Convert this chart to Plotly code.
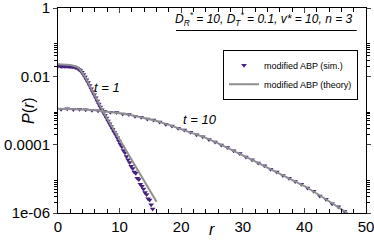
import plotly.graph_objects as go

# ---- data (log10 P values) ----
r_theory_t1 = [0, 0.5, 1, 1.5, 2, 2.5, 3, 3.5, 4, 4.5, 5, 5.5, 6, 6.5, 7, 7.5, 8,
               8.5, 9, 9.5, 10, 10.5, 11, 11.5, 12, 12.5, 13, 13.5, 14, 14.5, 15, 15.5, 16]
logP_theory_t1 = [-1.65, -1.65, -1.655, -1.66, -1.67, -1.69, -1.72, -1.78, -1.90, -2.05,
                  -2.22, -2.40, -2.58, -2.76, -2.93, -3.09, -3.24, -3.39, -3.54, -3.69,
                  -3.85, -4.00, -4.15, -4.30, -4.45, -4.61, -4.76, -4.91, -5.06, -5.21,
                  -5.37, -5.52, -5.67]

r_sim_t1 = [0.125, 0.375, 0.625, 0.875, 1.125, 1.375, 1.625, 1.875, 2.125, 2.375,
            2.625, 2.875, 3.125, 3.375, 3.625, 3.875, 4.125, 4.375, 4.625, 4.875,
            5.125, 5.375, 5.625, 5.875, 6.125, 6.375, 6.625, 6.875, 7.125, 7.375,
            7.625, 7.875, 8.125, 8.375, 8.625, 8.875, 9.125, 9.375, 9.625, 9.875,
            10.125, 10.375, 10.625, 10.875, 11.125, 11.375, 11.625, 11.875, 12.125, 12.375,
            12.625, 12.875, 13.125, 13.375, 13.625, 13.875, 14.125, 14.375, 14.625, 14.875,
            15.125, 15.375]
logP_sim_t1 = [-1.70, -1.70, -1.71, -1.70, -1.71, -1.70, -1.71, -1.71, -1.72, -1.72,
               -1.73, -1.74, -1.76, -1.79, -1.83, -1.88, -1.95, -2.02, -2.10, -2.18,
               -2.27, -2.36, -2.45, -2.54, -2.63, -2.72, -2.81, -2.90, -2.98, -3.06,
               -3.14, -3.22, -3.31, -3.39, -3.47, -3.55, -3.64, -3.71, -3.80, -3.89,
               -3.99, -4.06, -4.17, -4.24, -4.35, -4.44, -4.52, -4.63, -4.70, -4.80,
               -4.84, -4.98, -5.02, -5.16, -5.22, -5.30, -5.40, -5.46, -5.58, -5.62,
               -5.76, -5.88]

r_theory_t10 = [0, 2, 4, 6, 8, 10, 12, 14, 16, 18, 20, 22, 24, 26, 28, 30, 32, 34,
                36, 38, 40, 42, 44, 46, 47]
logP_theory_t10 = [-2.95, -2.955, -2.97, -2.99, -3.03, -3.08, -3.14, -3.22, -3.31, -3.42,
                   -3.54, -3.67, -3.80, -3.96, -4.13, -4.31, -4.49, -4.67, -4.85, -5.03,
                   -5.21, -5.43, -5.66, -5.89, -6.00]

r_sim_t10 = [0.5, 1.5, 2.5, 3.5, 4.5, 5.5, 6.5, 7.5, 8.5, 9.5, 10.5, 11.5, 12.5, 13.5,
             14.5, 15.5, 16.5, 17.5, 18.5, 19.5, 20.5, 21.5, 22.5, 23.5, 24.5, 25.5,
             26.5, 27.5, 28.5, 29.5, 30.5, 31.5, 32.5, 33.5, 34.5, 35.5, 36.5, 37.5,
             38.5, 39.5, 40.5, 41.5, 42.5, 43.5, 44.5, 45.5, 46.5]
logP_sim_t10 = [-2.96, -2.95, -2.97, -2.96, -2.98, -2.99, -3.01, -3.02, -3.05, -3.06,
                -3.10, -3.12, -3.17, -3.20, -3.25, -3.28, -3.34, -3.40, -3.45, -3.52,
                -3.57, -3.64, -3.71, -3.77, -3.85, -3.92, -4.01, -4.08, -4.18, -4.26,
                -4.36, -4.44, -4.54, -4.62, -4.72, -4.80, -4.90, -4.98, -5.08, -5.16,
                -5.27, -5.36, -5.50, -5.60, -5.73, -5.82, -5.95]

x_ticks = [0, 10, 20, 30, 40, 50]
y_ticks = [1, 1e-2, 1e-4, 1e-6]
y_tick_labels = ["1", "0.01", "0.0001", "1e-06"]
y_minor = [m * 10.0 ** e for e in (-2, -4, -6) for m in (2, 3, 4, 5, 6, 7, 8, 9)]

P_theory_t1 = [10 ** v for v in logP_theory_t1]
P_sim_t1 = [10 ** v for v in logP_sim_t1]
P_theory_t10 = [10 ** v for v in logP_theory_t10]
P_sim_t10 = [10 ** v for v in logP_sim_t10]

PURPLE = "#45207f"
GRAY = "#8f8f8f"
FONT = "Liberation Sans, Arial, sans-serif"

fig = go.Figure()
fig.add_trace(go.Scatter(x=r_sim_t1, y=P_sim_t1, mode="markers", name="modified ABP (sim.)",
                         marker=dict(symbol="triangle-down", size=5, color=PURPLE)))
fig.add_trace(go.Scatter(x=r_sim_t10, y=P_sim_t10, mode="markers", showlegend=False,
                         marker=dict(symbol="triangle-down", size=5, color=PURPLE)))
fig.add_trace(go.Scatter(x=r_theory_t1, y=P_theory_t1, mode="lines", name="modified ABP (theory)",
                         line=dict(color=GRAY, width=2)))
fig.add_trace(go.Scatter(x=r_theory_t10, y=P_theory_t10, mode="lines", showlegend=False,
                         line=dict(color=GRAY, width=2)))

fig.update_layout(
    width=374, height=247,
    margin=dict(l=58, r=8, t=8, b=34),
    paper_bgcolor="white", plot_bgcolor="white",
    font=dict(family=FONT, color="black"),
    showlegend=True,
    legend=dict(x=0.974, y=0.796, xanchor="right", yanchor="top",
                bgcolor="white", bordercolor="black", borderwidth=1,
                font=dict(size=9, family=FONT), itemwidth=30,
                tracegroupgap=0),
)
fig.update_xaxes(range=[0, 50], tickvals=x_ticks, ticks="inside", ticklen=5,
                 showline=True, linecolor="black", linewidth=1, mirror="ticks",
                 showgrid=False, zeroline=False, tickfont=dict(size=15), automargin=False,
                 ticklabeloverflow="allow",
                 minor=dict(dtick=2, ticks="inside", ticklen=4, tickcolor="black"))
fig.update_yaxes(type="log", range=[-6, 0], tickvals=y_ticks, ticktext=y_tick_labels,
                 ticks="outside", ticklen=4, showline=True, linecolor="black", linewidth=1,
                 mirror="ticks", showgrid=False, zeroline=False, tickfont=dict(size=15),
                 automargin=False, ticklabeloverflow="allow",
                 minor=dict(tickmode="array", tickvals=y_minor, ticks="outside", ticklen=3,
                            tickcolor="black"))

# axis titles
fig.add_annotation(x=-0.13, y=0.5, xref="paper", yref="paper", text="<i>P</i>(<i>r</i>)",
                   textangle=-90, showarrow=False, font=dict(size=16))
fig.add_annotation(x=0.5, y=-0.13, xref="paper", yref="paper", text="<i>r</i>",
                   showarrow=False, font=dict(size=16))

fig.add_annotation(x=7.95, y=-2.33, xref="x", yref="y", text="<i>t = 1</i>",
                   showarrow=False, font=dict(size=13))
fig.add_annotation(x=23.05, y=-3.26, xref="x", yref="y", text="<i>t = 10</i>",
                   showarrow=False, font=dict(size=13))
fig.add_annotation(x=0.962, y=0.945, xref="paper", yref="paper", xanchor="right", yanchor="middle",
                   text="<i>D<sub>R</sub><sup>*</sup> = 10, D<sub>T</sub><sup>*</sup> = 0.1, v* = 10, n = 3</i>",
                   showarrow=False, font=dict(size=12))
fig.add_shape(type="line", xref="paper", yref="paper", x0=0.383, x1=0.97, y0=0.8902, y1=0.8902,
              line=dict(color="black", width=1))

# remove the browser's default 8px page margin so the figure sits at the window origin
fig.write_html("out.html", config={"displayModeBar": False},
               post_script="document.body.style.margin='0px';")
